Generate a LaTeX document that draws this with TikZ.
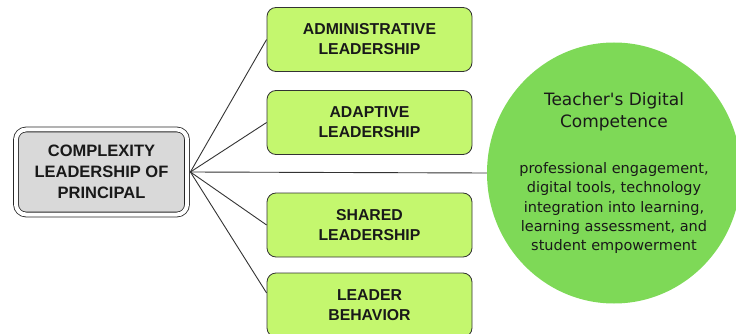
\documentclass[tikz,border=0pt]{standalone}
\usepackage{fontspec}
\setmainfont{Liberation Sans}
\newfontfamily\handfont{DejaVu Sans}
\usepackage{xcolor}
\usepackage{tikz}
\usetikzlibrary{positioning,shapes.geometric}
\definecolor{limebox}{RGB}{196,247,110}
\definecolor{dcgreen}{RGB}{126,217,87}
\definecolor{greyfill}{RGB}{217,217,217}

\begin{document}
\begin{tikzpicture}[x=1pt,y=-1pt,every node/.style={text=black!90},
  lead/.style={draw=black!80,line width=0.8pt,rounded corners=9pt,fill=limebox,minimum width=205pt,minimum height=64pt,align=center,inner sep=0pt,font=\fontsize{15.8}{20}\selectfont\bfseries},
  root/.style={draw=black!85,double=white,double distance=4pt,line width=0.8pt,rounded corners=10pt,fill=greyfill,minimum width=171pt,minimum height=85pt,align=center,inner sep=0pt,font=\fontsize{16.5}{21}\selectfont\bfseries},
  comp/.style={ellipse,fill=dcgreen,minimum width=254pt,minimum height=261pt,inner sep=0pt},
  hand/.style={align=center,inner sep=0pt,font=\handfont\fontsize{#1}{19.3}\selectfont},
  link/.style={draw=black!80,line width=0.9pt}]
\useasboundingbox (0,0) rectangle (736,334);
\node[root] (clp) at (101.5,172) {COMPLEXITY\\LEADERSHIP OF\\PRINCIPAL};
\node[lead] (adm) at (369.5,39.5) {ADMINISTRATIVE\\LEADERSHIP};
\node[lead] (ada) at (369.5,122.5) {ADAPTIVE\\LEADERSHIP};
\node[lead] (shr) at (369.5,225) {SHARED\\LEADERSHIP};
\node[lead] (beh) at (369.5,305) {LEADER\\BEHAVIOR};
\node[comp] (tdc) at (614,173) {};
\node[hand=17,font=\handfont\fontsize{17}{22}\selectfont] (tdctitle) at (614,112) {Teacher's Digital\\Competence};
\node[hand=14.5] (tdcbody) at (614,208) {professional engagement,\\digital tools, technology\\integration into learning,\\learning assessment, and\\student empowerment};
\draw[link] ([xshift=3pt]clp.east)--(adm.west);\draw[link] ([xshift=3pt]clp.east)--(ada.west);
\draw[link] ([xshift=3pt]clp.east)--(shr.west);\draw[link] ([xshift=3pt]clp.east)--([yshift=12pt]beh.west);
\draw[link] ([xshift=3pt]clp.east)--(tdc.west);
\end{tikzpicture}
\end{document}
